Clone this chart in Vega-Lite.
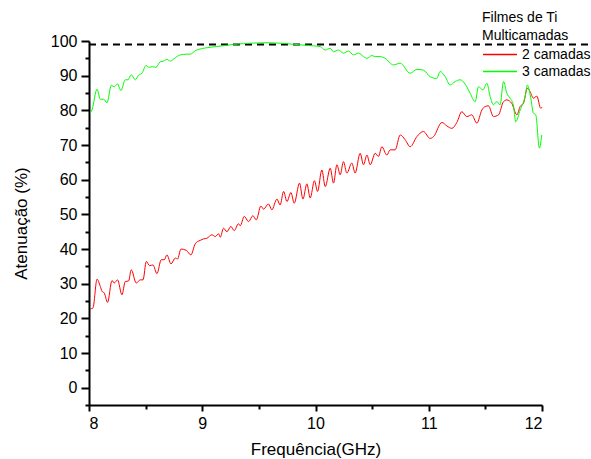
{
  "$schema": "https://vega.github.io/schema/vega-lite/v6.json",
  "width": 453,
  "height": 364,
  "autosize": {"type": "none"},
  "padding": {"left": 89, "top": 41, "right": 49, "bottom": 54},
  "config": {
    "view": {"stroke": null},
    "font": "Liberation Sans",
    "axis": {
      "grid": false,
      "domainColor": "black",
      "domainWidth": 2,
      "tickColor": "black",
      "tickWidth": 2,
      "labelColor": "black",
      "labelFontSize": 16,
      "labelPadding": 4,
      "labelOverlap": false,
      "titleColor": "black",
      "titleFontSize": 17,
      "titleFontWeight": "normal"
    }
  },
  "datasets": {
    "curves": [
      {"f": 8.011, "a": 22.7, "s": "2 camadas"},
      {"f": 8.035, "a": 23.0, "s": "2 camadas"},
      {"f": 8.071, "a": 31.3, "s": "2 camadas"},
      {"f": 8.100, "a": 29.2, "s": "2 camadas"},
      {"f": 8.115, "a": 27.8, "s": "2 camadas"},
      {"f": 8.135, "a": 27.3, "s": "2 camadas"},
      {"f": 8.164, "a": 24.6, "s": "2 camadas"},
      {"f": 8.203, "a": 30.9, "s": "2 camadas"},
      {"f": 8.223, "a": 30.2, "s": "2 camadas"},
      {"f": 8.252, "a": 31.1, "s": "2 camadas"},
      {"f": 8.291, "a": 26.8, "s": "2 camadas"},
      {"f": 8.320, "a": 30.6, "s": "2 camadas"},
      {"f": 8.350, "a": 30.8, "s": "2 camadas"},
      {"f": 8.373, "a": 34.0, "s": "2 camadas"},
      {"f": 8.417, "a": 30.2, "s": "2 camadas"},
      {"f": 8.453, "a": 31.1, "s": "2 camadas"},
      {"f": 8.477, "a": 31.1, "s": "2 camadas"},
      {"f": 8.506, "a": 36.4, "s": "2 camadas"},
      {"f": 8.535, "a": 35.2, "s": "2 camadas"},
      {"f": 8.565, "a": 35.4, "s": "2 camadas"},
      {"f": 8.600, "a": 32.9, "s": "2 camadas"},
      {"f": 8.638, "a": 36.9, "s": "2 camadas"},
      {"f": 8.665, "a": 36.9, "s": "2 camadas"},
      {"f": 8.688, "a": 38.3, "s": "2 camadas"},
      {"f": 8.724, "a": 35.7, "s": "2 camadas"},
      {"f": 8.762, "a": 37.4, "s": "2 camadas"},
      {"f": 8.782, "a": 37.1, "s": "2 camadas"},
      {"f": 8.812, "a": 40.0, "s": "2 camadas"},
      {"f": 8.859, "a": 39.6, "s": "2 camadas"},
      {"f": 8.900, "a": 38.3, "s": "2 camadas"},
      {"f": 8.938, "a": 41.5, "s": "2 camadas"},
      {"f": 8.982, "a": 42.5, "s": "2 camadas"},
      {"f": 9.011, "a": 42.9, "s": "2 camadas"},
      {"f": 9.041, "a": 43.1, "s": "2 camadas"},
      {"f": 9.086, "a": 44.1, "s": "2 camadas"},
      {"f": 9.115, "a": 43.6, "s": "2 camadas"},
      {"f": 9.144, "a": 44.4, "s": "2 camadas"},
      {"f": 9.159, "a": 43.4, "s": "2 camadas"},
      {"f": 9.188, "a": 46.0, "s": "2 camadas"},
      {"f": 9.218, "a": 45.0, "s": "2 camadas"},
      {"f": 9.253, "a": 46.5, "s": "2 camadas"},
      {"f": 9.282, "a": 45.3, "s": "2 camadas"},
      {"f": 9.320, "a": 47.3, "s": "2 camadas"},
      {"f": 9.335, "a": 46.7, "s": "2 camadas"},
      {"f": 9.371, "a": 49.4, "s": "2 camadas"},
      {"f": 9.409, "a": 47.9, "s": "2 camadas"},
      {"f": 9.447, "a": 49.6, "s": "2 camadas"},
      {"f": 9.477, "a": 48.4, "s": "2 camadas"},
      {"f": 9.518, "a": 52.4, "s": "2 camadas"},
      {"f": 9.541, "a": 51.5, "s": "2 camadas"},
      {"f": 9.585, "a": 53.0, "s": "2 camadas"},
      {"f": 9.615, "a": 51.3, "s": "2 camadas"},
      {"f": 9.659, "a": 54.4, "s": "2 camadas"},
      {"f": 9.688, "a": 52.7, "s": "2 camadas"},
      {"f": 9.718, "a": 56.6, "s": "2 camadas"},
      {"f": 9.748, "a": 53.7, "s": "2 camadas"},
      {"f": 9.783, "a": 56.3, "s": "2 camadas"},
      {"f": 9.812, "a": 53.2, "s": "2 camadas"},
      {"f": 9.859, "a": 59.0, "s": "2 camadas"},
      {"f": 9.889, "a": 54.4, "s": "2 camadas"},
      {"f": 9.924, "a": 58.8, "s": "2 camadas"},
      {"f": 9.953, "a": 54.7, "s": "2 camadas"},
      {"f": 9.991, "a": 59.7, "s": "2 camadas"},
      {"f": 10.018, "a": 56.6, "s": "2 camadas"},
      {"f": 10.056, "a": 62.8, "s": "2 camadas"},
      {"f": 10.086, "a": 58.0, "s": "2 camadas"},
      {"f": 10.130, "a": 63.3, "s": "2 camadas"},
      {"f": 10.159, "a": 59.0, "s": "2 camadas"},
      {"f": 10.189, "a": 64.3, "s": "2 camadas"},
      {"f": 10.218, "a": 61.4, "s": "2 camadas"},
      {"f": 10.247, "a": 65.2, "s": "2 camadas"},
      {"f": 10.277, "a": 61.9, "s": "2 camadas"},
      {"f": 10.321, "a": 64.8, "s": "2 camadas"},
      {"f": 10.350, "a": 61.9, "s": "2 camadas"},
      {"f": 10.394, "a": 67.6, "s": "2 camadas"},
      {"f": 10.424, "a": 64.3, "s": "2 camadas"},
      {"f": 10.454, "a": 67.1, "s": "2 camadas"},
      {"f": 10.483, "a": 64.3, "s": "2 camadas"},
      {"f": 10.527, "a": 67.6, "s": "2 camadas"},
      {"f": 10.556, "a": 66.7, "s": "2 camadas"},
      {"f": 10.586, "a": 69.5, "s": "2 camadas"},
      {"f": 10.630, "a": 67.1, "s": "2 camadas"},
      {"f": 10.659, "a": 68.6, "s": "2 camadas"},
      {"f": 10.703, "a": 68.6, "s": "2 camadas"},
      {"f": 10.748, "a": 72.9, "s": "2 camadas"},
      {"f": 10.792, "a": 71.5, "s": "2 camadas"},
      {"f": 10.836, "a": 69.5, "s": "2 camadas"},
      {"f": 10.895, "a": 72.4, "s": "2 camadas"},
      {"f": 10.953, "a": 73.9, "s": "2 camadas"},
      {"f": 11.012, "a": 71.9, "s": "2 camadas"},
      {"f": 11.042, "a": 72.4, "s": "2 camadas"},
      {"f": 11.116, "a": 76.5, "s": "2 camadas"},
      {"f": 11.160, "a": 75.5, "s": "2 camadas"},
      {"f": 11.204, "a": 74.8, "s": "2 camadas"},
      {"f": 11.248, "a": 76.5, "s": "2 camadas"},
      {"f": 11.292, "a": 79.6, "s": "2 camadas"},
      {"f": 11.336, "a": 78.2, "s": "2 camadas"},
      {"f": 11.380, "a": 78.7, "s": "2 camadas"},
      {"f": 11.425, "a": 76.3, "s": "2 camadas"},
      {"f": 11.469, "a": 80.1, "s": "2 camadas"},
      {"f": 11.498, "a": 81.1, "s": "2 camadas"},
      {"f": 11.527, "a": 81.3, "s": "2 camadas"},
      {"f": 11.571, "a": 78.2, "s": "2 camadas"},
      {"f": 11.616, "a": 78.7, "s": "2 camadas"},
      {"f": 11.660, "a": 82.5, "s": "2 camadas"},
      {"f": 11.690, "a": 83.0, "s": "2 camadas"},
      {"f": 11.733, "a": 82.0, "s": "2 camadas"},
      {"f": 11.778, "a": 78.7, "s": "2 camadas"},
      {"f": 11.807, "a": 81.1, "s": "2 camadas"},
      {"f": 11.836, "a": 82.0, "s": "2 camadas"},
      {"f": 11.871, "a": 86.4, "s": "2 camadas"},
      {"f": 11.895, "a": 85.4, "s": "2 camadas"},
      {"f": 11.924, "a": 83.5, "s": "2 camadas"},
      {"f": 11.954, "a": 84.1, "s": "2 camadas"},
      {"f": 11.989, "a": 80.6, "s": "2 camadas"},
      {"f": 12.000, "a": 80.9, "s": "2 camadas"},
      {"f": 8.011, "a": 79.2, "s": "3 camadas"},
      {"f": 8.026, "a": 80.1, "s": "3 camadas"},
      {"f": 8.071, "a": 86.1, "s": "3 camadas"},
      {"f": 8.100, "a": 83.2, "s": "3 camadas"},
      {"f": 8.129, "a": 83.2, "s": "3 camadas"},
      {"f": 8.159, "a": 82.2, "s": "3 camadas"},
      {"f": 8.197, "a": 87.2, "s": "3 camadas"},
      {"f": 8.223, "a": 86.8, "s": "3 camadas"},
      {"f": 8.252, "a": 87.6, "s": "3 camadas"},
      {"f": 8.282, "a": 85.7, "s": "3 camadas"},
      {"f": 8.320, "a": 88.8, "s": "3 camadas"},
      {"f": 8.344, "a": 88.8, "s": "3 camadas"},
      {"f": 8.373, "a": 90.3, "s": "3 camadas"},
      {"f": 8.409, "a": 88.8, "s": "3 camadas"},
      {"f": 8.438, "a": 90.2, "s": "3 camadas"},
      {"f": 8.468, "a": 90.7, "s": "3 camadas"},
      {"f": 8.503, "a": 92.9, "s": "3 camadas"},
      {"f": 8.532, "a": 92.4, "s": "3 camadas"},
      {"f": 8.561, "a": 92.6, "s": "3 camadas"},
      {"f": 8.591, "a": 92.4, "s": "3 camadas"},
      {"f": 8.629, "a": 94.0, "s": "3 camadas"},
      {"f": 8.658, "a": 94.2, "s": "3 camadas"},
      {"f": 8.688, "a": 94.7, "s": "3 camadas"},
      {"f": 8.718, "a": 94.2, "s": "3 camadas"},
      {"f": 8.747, "a": 94.8, "s": "3 camadas"},
      {"f": 8.806, "a": 96.0, "s": "3 camadas"},
      {"f": 8.865, "a": 96.2, "s": "3 camadas"},
      {"f": 8.894, "a": 96.2, "s": "3 camadas"},
      {"f": 8.938, "a": 97.2, "s": "3 camadas"},
      {"f": 9.011, "a": 97.9, "s": "3 camadas"},
      {"f": 9.130, "a": 98.4, "s": "3 camadas"},
      {"f": 9.276, "a": 99.0, "s": "3 camadas"},
      {"f": 9.453, "a": 99.4, "s": "3 camadas"},
      {"f": 9.571, "a": 99.5, "s": "3 camadas"},
      {"f": 9.718, "a": 99.3, "s": "3 camadas"},
      {"f": 9.865, "a": 98.9, "s": "3 camadas"},
      {"f": 9.982, "a": 98.6, "s": "3 camadas"},
      {"f": 10.041, "a": 98.4, "s": "3 camadas"},
      {"f": 10.085, "a": 97.4, "s": "3 camadas"},
      {"f": 10.130, "a": 97.9, "s": "3 camadas"},
      {"f": 10.159, "a": 96.9, "s": "3 camadas"},
      {"f": 10.203, "a": 97.4, "s": "3 camadas"},
      {"f": 10.247, "a": 96.5, "s": "3 camadas"},
      {"f": 10.291, "a": 97.1, "s": "3 camadas"},
      {"f": 10.335, "a": 96.0, "s": "3 camadas"},
      {"f": 10.380, "a": 96.5, "s": "3 camadas"},
      {"f": 10.424, "a": 95.5, "s": "3 camadas"},
      {"f": 10.454, "a": 95.0, "s": "3 camadas"},
      {"f": 10.498, "a": 95.8, "s": "3 camadas"},
      {"f": 10.527, "a": 95.5, "s": "3 camadas"},
      {"f": 10.571, "a": 95.5, "s": "3 camadas"},
      {"f": 10.615, "a": 95.0, "s": "3 camadas"},
      {"f": 10.688, "a": 93.1, "s": "3 camadas"},
      {"f": 10.748, "a": 93.6, "s": "3 camadas"},
      {"f": 10.836, "a": 90.7, "s": "3 camadas"},
      {"f": 10.895, "a": 91.8, "s": "3 camadas"},
      {"f": 10.953, "a": 91.6, "s": "3 camadas"},
      {"f": 11.012, "a": 89.7, "s": "3 camadas"},
      {"f": 11.071, "a": 89.2, "s": "3 camadas"},
      {"f": 11.100, "a": 91.2, "s": "3 camadas"},
      {"f": 11.145, "a": 89.7, "s": "3 camadas"},
      {"f": 11.189, "a": 87.3, "s": "3 camadas"},
      {"f": 11.233, "a": 88.3, "s": "3 camadas"},
      {"f": 11.277, "a": 88.8, "s": "3 camadas"},
      {"f": 11.336, "a": 86.8, "s": "3 camadas"},
      {"f": 11.366, "a": 84.9, "s": "3 camadas"},
      {"f": 11.410, "a": 82.5, "s": "3 camadas"},
      {"f": 11.439, "a": 86.8, "s": "3 camadas"},
      {"f": 11.478, "a": 85.9, "s": "3 camadas"},
      {"f": 11.513, "a": 87.8, "s": "3 camadas"},
      {"f": 11.542, "a": 84.0, "s": "3 camadas"},
      {"f": 11.571, "a": 81.6, "s": "3 camadas"},
      {"f": 11.601, "a": 82.5, "s": "3 camadas"},
      {"f": 11.630, "a": 81.6, "s": "3 camadas"},
      {"f": 11.660, "a": 88.3, "s": "3 camadas"},
      {"f": 11.690, "a": 84.9, "s": "3 camadas"},
      {"f": 11.718, "a": 83.5, "s": "3 camadas"},
      {"f": 11.747, "a": 81.6, "s": "3 camadas"},
      {"f": 11.768, "a": 76.7, "s": "3 camadas"},
      {"f": 11.807, "a": 80.1, "s": "3 camadas"},
      {"f": 11.851, "a": 84.0, "s": "3 camadas"},
      {"f": 11.871, "a": 87.3, "s": "3 camadas"},
      {"f": 11.901, "a": 83.5, "s": "3 camadas"},
      {"f": 11.924, "a": 79.2, "s": "3 camadas"},
      {"f": 11.945, "a": 78.7, "s": "3 camadas"},
      {"f": 11.977, "a": 69.1, "s": "3 camadas"},
      {"f": 11.998, "a": 72.9, "s": "3 camadas"}
    ],
    "ref": [{"f": 8, "f2": 12.42, "a": 99}]
  },
  "layer": [
    {
      "data": {"name": "ref"},
      "mark": {"type": "rule", "color": "black", "strokeWidth": 2, "strokeDash": [7, 5]},
      "encoding": {
        "x": {"field": "f", "type": "quantitative", "scale": {"domain": [8, 12], "nice": false, "zero": false},
          "axis": {
            "title": "Frequência(GHz)",
            "values": [8, 8.5, 9, 9.5, 10, 10.5, 11, 11.5, 12],
            "tickCount": 40,
            "labelExpr": "datum.value % 1 === 0 ? format(datum.value, 'd') : ''",
            "tickSize": {"condition": {"test": "datum.value % 1 === 0", "value": 6}, "value": 4},
            "titlePadding": 10
          }},
        "x2": {"field": "f2"},
        "y": {"field": "a", "type": "quantitative", "scale": {"domain": [-5, 100], "nice": false, "zero": false},
          "axis": {
            "title": "Atenuação (%)",
            "values": [-5, 0, 5, 10, 15, 20, 25, 30, 35, 40, 45, 50, 55, 60, 65, 70, 75, 80, 85, 90, 95, 100],
            "tickCount": 40,
            "labelExpr": "datum.value % 10 === 0 ? format(datum.value, 'd') : ''",
            "tickSize": {"condition": {"test": "datum.value % 10 === 0", "value": 8}, "value": 4},
            "titlePadding": 20
          }}
      }
    },
    {
      "data": {"name": "curves"},
      "mark": {"type": "line", "strokeWidth": 1, "interpolate": "monotone"},
      "encoding": {
        "x": {"field": "f", "type": "quantitative"},
        "y": {"field": "a", "type": "quantitative"},
        "color": {
          "field": "s", "type": "nominal",
          "scale": {"domain": ["2 camadas", "3 camadas"], "range": ["#ff0000", "#00ff00"]},
          "legend": {
            "orient": "none",
            "legendX": 393,
            "legendY": -30,
            "title": ["Filmes de Ti", "Multicamadas"],
            "titleFontSize": 14,
            "titleFontWeight": "normal",
            "titleColor": "black",
            "titleLineHeight": 18,
            "titlePadding": 3,
            "labelFontSize": 14,
            "labelColor": "black",
            "labelOffset": 4,
            "symbolType": "stroke",
            "symbolSize": 1156,
            "symbolStrokeWidth": 1.5,
            "clipHeight": 17,
            "rowPadding": 0
          }
        }
      }
    }
  ]
}
